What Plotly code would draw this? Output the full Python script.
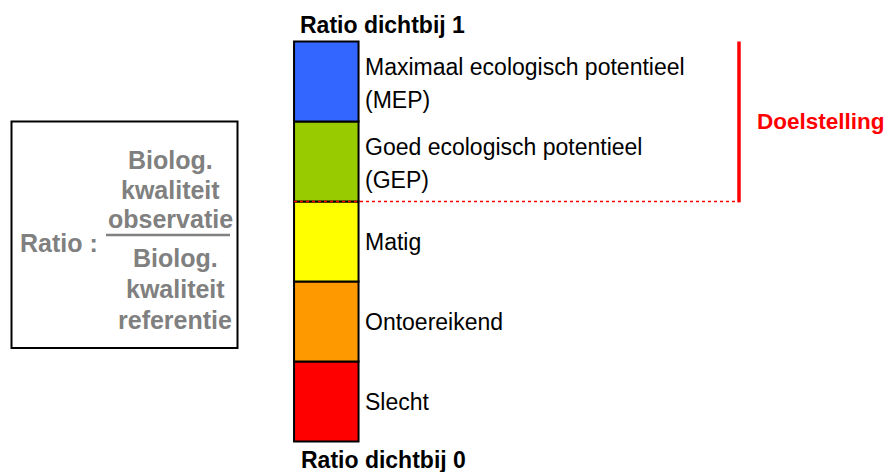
import plotly.graph_objects as go

# ---------------- data ----------------
classes = ["Slecht", "Ontoereikend", "Matig",
           "Goed ecologisch potentieel (GEP)",
           "Maximaal ecologisch potentieel (MEP)"]
class_lines = [["Slecht"], ["Ontoereikend"], ["Matig"],
               ["Goed ecologisch potentieel", "(GEP)"],
               ["Maximaal ecologisch potentieel", "(MEP)"]]
class_width = [0.2, 0.2, 0.2, 0.2, 0.2]          # ratio span per class
class_colors = ["#FF0000", "#FF9900", "#FFFF00", "#99CC00", "#3366FF"]
target_classes = 2                                # GEP and MEP = Doelstelling
title_top = "Ratio dichtbij 1"
title_bottom = "Ratio dichtbij 0"
target_label = "Doelstelling"
ratio_label = "Ratio :"
numerator = ["Biolog.", "kwaliteit", "observatie"]
denominator = ["Biolog.", "kwaliteit", "referentie"]

# ---------------- layout helpers ----------------
W, H = 893, 472
OFF = 8                              # default page body margin
Y0_PX, Y1_PX = 441.5, 41.5          # screen rows of ratio 0 and ratio 1
scale = (Y0_PX - Y1_PX)
yrange = [(Y0_PX - H) / scale, (Y0_PX - OFF) / scale]


def py(p):
    """screen pixel row -> y data units"""
    return (Y0_PX - p) / scale


FONT = "Arial, Liberation Sans, sans-serif"
GRAY = "#808080"
BAR_X, BAR_W = 326.3, 64.5

fig = go.Figure()
base = 0.0
bases = []
for name, w, c in zip(classes, class_width, class_colors):
    bases.append(base)
    fig.add_trace(go.Bar(
        x=[BAR_X], y=[w], base=[base], width=[BAR_W], name=name,
        marker=dict(color=c, line=dict(color="black", width=2)),
        hoverinfo="name"))
    base += w

ann = []
# class labels
for lines, b, w in zip(class_lines, bases, class_width):
    yc = b + w / 2
    shifts = [0] if len(lines) == 1 else [15, -18]
    for t, s in zip(lines, shifts):
        ann.append(dict(x=363, y=yc, yshift=s, text=t, xanchor="left",
                        yanchor="middle", showarrow=False,
                        font=dict(family=FONT, size=23, color="black")))

# titles
ann.append(dict(x=382, y=py(25), text="<b>%s</b>" % title_top, showarrow=False,
                xanchor="center", yanchor="middle",
                font=dict(family=FONT, size=23, color="black")))
ann.append(dict(x=383, y=py(460), text="<b>%s</b>" % title_bottom, showarrow=False,
                xanchor="center", yanchor="middle",
                font=dict(family=FONT, size=23, color="black")))

# target
t_lo = sum(class_width[:len(class_width) - target_classes])
t_hi = sum(class_width)
ann.append(dict(x=755, y=(t_lo + t_hi) / 2, text="<b>%s</b>" % target_label,
                showarrow=False, xanchor="left", yanchor="middle",
                font=dict(family=FONT, size=22.5, color="#FF0000")))

shapes = [
    dict(type="line", x0=294, x1=739, y0=t_lo, y1=t_lo,
         line=dict(color="#FF0000", width=1.5, dash="dot"), layer="above"),
    dict(type="line", x0=739, x1=739, y0=t_lo - 0.002, y1=t_hi,
         line=dict(color="#FF0000", width=3.5), layer="above"),
    # ratio box
    dict(type="rect", x0=11.5, x1=237.5, y0=py(348), y1=py(121.5),
         line=dict(color="black", width=2), fillcolor="rgba(0,0,0,0)"),
    # fraction bar
    dict(type="line", x0=106, x1=230, y0=py(235), y1=py(235),
         line=dict(color=GRAY, width=2.5)),
]

# ratio fraction text
ann.append(dict(x=18, y=py(243), text="<b>%s</b>" % ratio_label, showarrow=False,
                xanchor="left", yanchor="middle",
                font=dict(family=FONT, size=25, color=GRAY)))
for t, p in zip(numerator, [160, 190, 219]):
    ann.append(dict(x=170, y=py(p), text="<b>%s</b>" % t, showarrow=False,
                    xanchor="center", yanchor="middle",
                    font=dict(family=FONT, size=25, color=GRAY)))
for t, p in zip(denominator, [258, 289, 320]):
    ann.append(dict(x=175, y=py(p), text="<b>%s</b>" % t, showarrow=False,
                    xanchor="center", yanchor="middle",
                    font=dict(family=FONT, size=25, color=GRAY)))

fig.update_layout(
    width=W - OFF, height=H - OFF, margin=dict(l=0, r=0, t=0, b=0),
    barmode="overlay", showlegend=False,
    paper_bgcolor="white", plot_bgcolor="white",
    xaxis=dict(range=[OFF, W], visible=False, fixedrange=True),
    yaxis=dict(range=yrange, visible=False, fixedrange=True),
    annotations=ann, shapes=shapes,
)

fig.write_html("out.html")
